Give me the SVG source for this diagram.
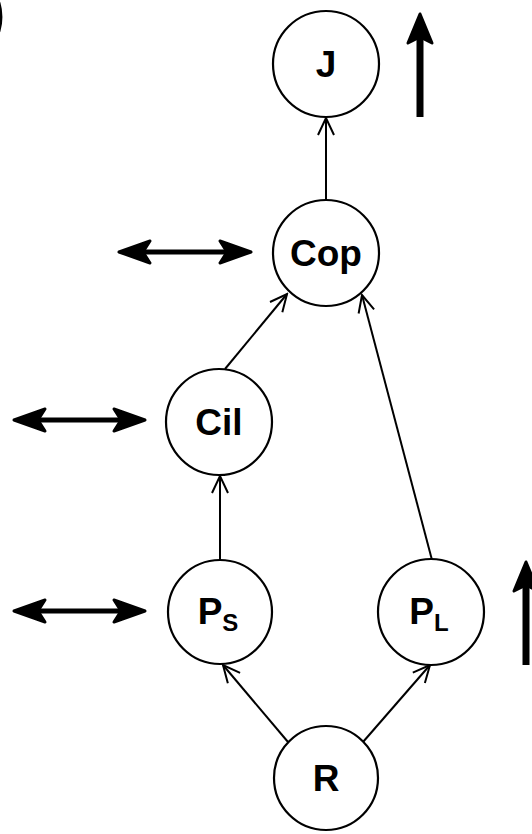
<svg xmlns="http://www.w3.org/2000/svg" width="532" height="834" viewBox="0 0 532 834">
<style>
.node circle{fill:#fff;stroke:#000;stroke-width:2.2}
.node text{font-family:"Liberation Sans",Arial,sans-serif;font-weight:bold;font-size:37px;fill:#000;text-anchor:middle}
.edge{stroke:#000;stroke-width:2;fill:none;marker-end:url(#v)}
.big{fill:#000;stroke:#000;stroke-width:3;stroke-linejoin:round}
.shaft{stroke:#000;fill:none}
</style>
<defs>
<marker id="v" viewBox="0 0 20 20" refX="18" refY="10" markerWidth="20" markerHeight="20" markerUnits="userSpaceOnUse" orient="auto">
<path d="M1,2 L18,10 L1,18" fill="none" stroke="#000" stroke-width="2"/>
</marker>
</defs>
<rect width="532" height="834" fill="#fff"/>
<text x="-14" y="32" font-family="Liberation Sans,Arial,sans-serif" font-weight="bold" font-size="58" fill="#000">)</text>

<g id="connectors">
<line class="edge" x1="326" y1="200" x2="326" y2="118"/>
<line class="edge" x1="225" y1="369" x2="287" y2="294"/>
<line class="edge" x1="432" y1="560" x2="362" y2="295"/>
<line class="edge" x1="220" y1="560" x2="220" y2="476"/>
<line class="edge" x1="288" y1="742" x2="223" y2="665"/>
<line class="edge" x1="363" y1="742" x2="430" y2="665"/>
</g>

<g id="J"><g class="node"><circle cx="326" cy="64" r="53"/><text x="326" y="77">J</text></g></g>
<g id="Cop"><g class="node"><circle cx="326" cy="253" r="53"/><text x="326" y="266">Cop</text></g></g>
<g id="Cil"><g class="node"><circle cx="219" cy="422" r="53"/><text x="219" y="435">Cil</text></g></g>
<g id="Ps"><g class="node"><circle cx="220" cy="612" r="52"/><text x="218" y="624">P<tspan font-size="24" dy="7">S</tspan></text></g></g>
<g id="PL"><g class="node"><circle cx="431" cy="612" r="53"/><text x="429" y="624">P<tspan font-size="24" dy="7">L</tspan></text></g></g>
<g id="R"><g class="node"><circle cx="326" cy="778" r="52"/><text x="326" y="791">R</text></g></g>

<g id="trend-arrows">
<line class="shaft" x1="420" y1="117" x2="420" y2="38" stroke-width="7"/>
<path class="big" d="M420,14 L432,43 L420,37 L408,43 Z"/>
<line class="shaft" x1="526" y1="665" x2="526" y2="585" stroke-width="7"/>
<path class="big" d="M526,562 L538,591 L526,585 L514,591 Z"/>

<line class="shaft" x1="140" y1="252" x2="230" y2="252" stroke-width="5"/>
<path class="big" d="M119,252 L150,241 L143,252 L150,263 Z"/>
<path class="big" d="M251,252 L220,241 L227,252 L220,263 Z"/>

<line class="shaft" x1="35" y1="420" x2="125" y2="420" stroke-width="5"/>
<path class="big" d="M14,420 L45,409 L38,420 L45,431 Z"/>
<path class="big" d="M145,420 L114,409 L121,420 L114,431 Z"/>

<line class="shaft" x1="35" y1="611" x2="125" y2="611" stroke-width="5"/>
<path class="big" d="M14,611 L45,600 L38,611 L45,622 Z"/>
<path class="big" d="M145,611 L114,600 L121,611 L114,622 Z"/>
</g>
</svg>
